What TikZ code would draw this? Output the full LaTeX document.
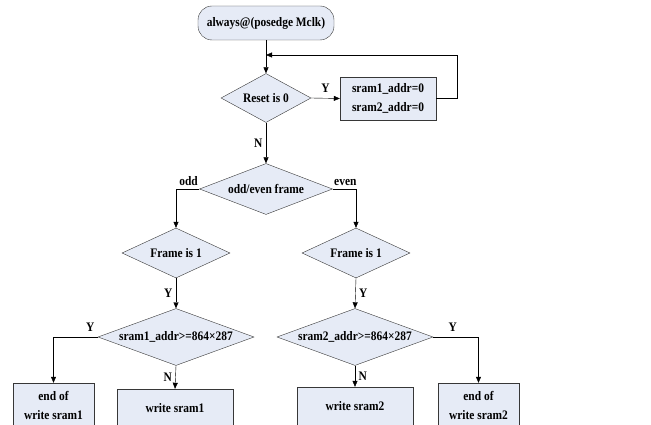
\documentclass[tikz,border=0pt]{standalone}
\usepackage{fontspec}
\setmainfont{Liberation Serif}[FakeStretch=0.88]
\usetikzlibrary{positioning, shapes.geometric, arrows.meta}
\definecolor{boxFill}{RGB}{230, 235, 246}
\definecolor{lineGray}{RGB}{55, 55, 55}

\begin{document}
\begin{tikzpicture}[
    x=1pt, y=-1pt,
    font=\fontsize{13}{19}\selectfont\bfseries,
    flowbox/.style={rectangle, draw=lineGray, fill=boxFill, align=center,
                    inner sep=0pt},
    startbox/.style={flowbox, rounded corners=14pt},
    decision/.style={diamond, draw=lineGray, fill=boxFill, inner sep=0pt},
    flow/.style={-{Triangle[length=6pt, width=5pt]}, draw=black},
  ]
    \useasboundingbox (0,0) rectangle (651,425);
    \clip (0,0) rectangle (651,425);

    \node[startbox, minimum width=136pt, minimum height=34pt] (start) at (266,23)
      {always@(posedge Mclk)};

    \node[decision, minimum width=90pt, minimum height=49pt,
          label={center:Reset is 0}] (reset) at (266,98) {};
    \node[flowbox, minimum width=96pt, minimum height=43pt] (clear) at (388,98.5)
      {sram1\_addr=0\\sram2\_addr=0};
    \coordinate (loopin) at (266,55);

    \node[decision, minimum width=133pt, minimum height=51pt,
          label={center:odd/even frame}] (parity) at (266,189) {};

    \node[decision, minimum width=108pt, minimum height=50pt,
          label={center:Frame is 1}] (frameL) at (176,253) {};
    \node[decision, minimum width=108pt, minimum height=50pt,
          label={center:Frame is 1}] (frameR) at (356,253) {};

    \node[decision, minimum width=156pt, minimum height=57pt,
          label={center:sram1\_addr>=864×287}] (addrL) at (176,337) {};
    \node[decision, minimum width=156pt, minimum height=57pt,
          label={center:sram2\_addr>=864×287}] (addrR) at (355,337) {};

    \node[flowbox, minimum width=81pt, minimum height=44pt] (endL) at (53.5,405)
      {end of\\write sram1};
    \node[flowbox, minimum width=116pt, minimum height=38pt] (writeL) at (175,408)
      {write sram1};
    \node[flowbox, minimum width=116pt, minimum height=38pt] (writeR) at (355,406)
      {write sram2};
    \node[flowbox, minimum width=81pt, minimum height=44pt] (endR) at (478.5,405)
      {end of\\write sram2};

    % reset loop
    \draw[flow] (start.south) -- (reset.north);
    \draw[flow] (reset.east) -- node[above, yshift=2pt] {Y} (clear.west);
    \draw[flow] (clear.east) -- ++(21,0) |- (loopin);
    \draw[flow] (reset.south) -- node[left] {N} (parity.north);

    % odd / even branches
    \draw[flow] (parity.west) -| node[pos=0, above left, xshift=2pt] {odd} (frameL.north);
    \draw[flow] (parity.east) -| node[pos=0, above right, xshift=-2pt] {even} (frameR.north);
    \draw[flow] (frameL.south) -- node[left] {Y} (addrL.north);
    \draw[flow] (frameR.south) -- node[right] {Y} (addrR.north);

    \draw[flow] (addrL.west) -| node[pos=0, above left, yshift=2pt] {Y} (endL.north);
    \draw[flow] (addrL.south) -- node[left] {N} (writeL.north);
    \draw[flow] (addrR.south) -- node[right] {N} (writeR.north);
    \draw[flow] (addrR.east) -| node[pos=0, above right, xshift=12pt, yshift=2pt] {Y} (endR.north);
  \end{tikzpicture}
\end{document}
